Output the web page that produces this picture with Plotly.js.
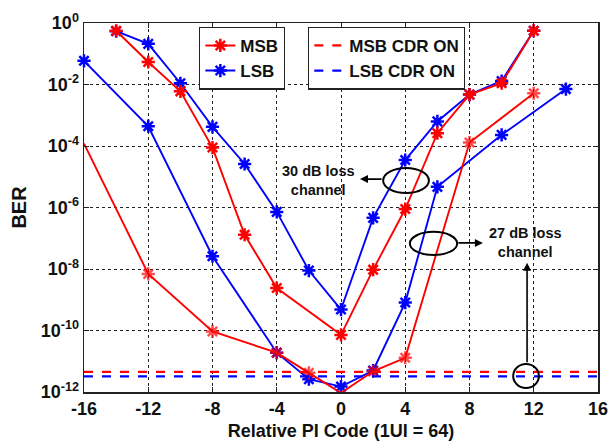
<!DOCTYPE html>
<html>
<head>
<meta charset="utf-8">
<script src="https://cdn.plot.ly/plotly-3.0.1.min.js"></script>
<style>html,body{margin:0;padding:0;background:#fff;}#chart{width:613px;height:448px;}</style>
</head>
<body>
<div id="chart"></div>
<script>
// 30 dB loss channel
const xMsb30 = [-14, -12, -10, -8, -6, -4, 0, 2, 4, 6, 8, 10, 12];
const berMsb30 = [5.6e-1, 5.4e-2, 6.0e-3, 8.9e-5, 1.3e-7, 2.4e-9, 7.2e-11, 9.5e-9, 8.9e-7, 2.6e-4, 4.7e-3, 1.1e-2, 5.6e-1];
const xLsb30 = [-14, -12, -10, -8, -6, -4, -2, 0, 2, 4, 6, 8, 10, 12];
const berLsb30 = [5.4e-1, 2.1e-1, 1.1e-2, 4.2e-4, 2.6e-5, 7.2e-7, 8.9e-9, 4.8e-10, 4.6e-7, 3.5e-5, 6.3e-4, 4.7e-3, 1.3e-2, 5.6e-1];
// 27 dB loss channel
const xMsb27 = [-16, -12, -8, -4, -2, 0, 2, 4, 8, 12];
const berMsb27 = [1.2e-4, 6.9e-9, 9.3e-11, 1.9e-11, 4.2e-12, 9.3e-13, 4.7e-12, 1.3e-11, 1.3e-4, 5.2e-3];
const xLsb27 = [-16, -12, -8, -4, -2, 0, 2, 4, 6, 10, 14];
const berLsb27 = [5.9e-2, 4.4e-4, 2.6e-8, 1.9e-11, 2.6e-12, 1.5e-12, 5.0e-12, 8.1e-10, 4.7e-6, 2.3e-4, 7.1e-3];
// CDR ON levels
const xCdr = [-16, 16];
const berMsbCdr = [4.5e-12, 4.5e-12];
const berLsbCdr = [3.2e-12, 3.2e-12];
// ticks
const xTicks = [-16, -12, -8, -4, 0, 4, 8, 12, 16];
const xTickText = ['-16', '-12', '-8', '-4', '0', '4', '8', '12', '16'];
const yTicks = [1, 1e-2, 1e-4, 1e-6, 1e-8, 1e-10, 1e-12];
const yTickText = ['10<sup>0</sup>', '10<sup>-2</sup>', '10<sup>-4</sup>', '10<sup>-6</sup>', '10<sup>-8</sup>', '10<sup>-10</sup>', '10<sup>-12</sup>'];

const RED = '#ff0000', BLUE = '#0000ff';
const FONT = 'Arial, "Liberation Sans", sans-serif';
const bold = s => '<b>' + s + '</b>';
function mk(color, sizes) {
  return {symbol: 'asterisk-open', size: sizes || 11, color: color, line: {color: color, width: 2.5}};
}
const traces = [
  {x: xLsb27, y: berLsb27, mode: 'lines+markers', line: {color: BLUE, width: 1.9}, marker: mk(BLUE), showlegend: false, cliponaxis: false},
  {x: xMsb27, y: berMsb27, mode: 'lines+markers', line: {color: RED, width: 1.9}, marker: mk(RED, xMsb27.map((v, i) => i === 0 ? 0 : 11)), showlegend: false, cliponaxis: false},
  {x: xLsb30, y: berLsb30, mode: 'lines+markers', line: {color: BLUE, width: 1.9}, marker: mk(BLUE), name: bold('LSB'), legend: 'legend', legendrank: 2, cliponaxis: false},
  {x: xMsb30, y: berMsb30, mode: 'lines+markers', line: {color: RED, width: 1.9}, marker: mk(RED), name: bold('MSB'), legend: 'legend', legendrank: 1, cliponaxis: false},
  {x: xCdr, y: berMsbCdr, mode: 'lines', line: {color: RED, width: 2.2, dash: 'dash'}, name: bold('MSB CDR ON'), legend: 'legend2', legendrank: 1},
  {x: xCdr, y: berLsbCdr, mode: 'lines', line: {color: BLUE, width: 2.2, dash: 'dash'}, name: bold('LSB CDR ON'), legend: 'legend2', legendrank: 2}
];

const axisCommon = {
  showline: true, mirror: 'ticks', linecolor: '#222', linewidth: 1.5,
  ticks: 'inside', ticklen: 5, tickcolor: '#222',
  showgrid: true, gridcolor: '#222', gridwidth: 1, griddash: '3px,3px',
  zeroline: false,
  tickfont: {family: FONT, size: 18, color: '#111'}
};

const annFont = {family: FONT, size: 14.5, color: '#111'};
const legFont = {family: FONT, size: 17, color: '#111'};
const layout = {
  width: 613, height: 448,
  margin: {l: 84, r: 15, t: 23, b: 56},
  paper_bgcolor: '#fff', plot_bgcolor: '#fff',
  font: {family: FONT},
  xaxis: Object.assign({}, axisCommon, {
    range: [-16, 16], tickmode: 'array', tickvals: xTicks, ticktext: xTickText.map(bold),
    title: {text: bold('Relative PI Code (1UI = 64)'), font: {family: FONT, size: 18, color: '#111'}, standoff: 6}
  }),
  yaxis: Object.assign({}, axisCommon, {
    type: 'log', range: [-12, 0], tickmode: 'array', tickvals: yTicks, ticktext: yTickText.map(bold),
    title: {text: bold('BER'), font: {family: FONT, size: 20, color: '#111'}, standoff: 8}
  }),
  legend: {
    x: 0.224, y: 0.99, xanchor: 'left', yanchor: 'top',
    bgcolor: '#fff', bordercolor: '#222', borderwidth: 1.2,
    font: legFont, tracegroupgap: 0, itemwidth: 30
  },
  legend2: {
    x: 0.436, y: 0.99, xanchor: 'left', yanchor: 'top',
    bgcolor: '#fff', bordercolor: '#222', borderwidth: 1.2,
    font: legFont, tracegroupgap: 0, itemwidth: 30
  },
  shapes: [
    {type: 'circle', xref: 'paper', yref: 'paper', x0: 0.582, x1: 0.671, y0: 0.539, y1: 0.607, line: {color: '#000', width: 2}},
    {type: 'circle', xref: 'paper', yref: 'paper', x0: 0.634, x1: 0.726, y0: 0.371, y1: 0.434, line: {color: '#000', width: 2}},
    {type: 'circle', xref: 'paper', yref: 'paper', x0: 0.835, x1: 0.885, y0: 0.011, y1: 0.076, line: {color: '#000', width: 2}}
  ],
  annotations: [
    {xref: 'paper', yref: 'paper', x: 0.457, y: 0.572, xanchor: 'center', yanchor: 'middle', text: bold('30 dB loss<br>channel'), showarrow: false, font: annFont},
    {xref: 'paper', yref: 'paper', x: 0.858, y: 0.404, xanchor: 'center', yanchor: 'middle', text: bold('27 dB loss<br>channel'), showarrow: false, font: annFont},
    {xref: 'paper', yref: 'paper', x: 0.537, y: 0.577, ax: 23, ay: 0, text: '', showarrow: true, arrowhead: 2, arrowsize: 1, arrowwidth: 1.6, arrowcolor: '#000'},
    {xref: 'paper', yref: 'paper', x: 0.776, y: 0.404, ax: -26, ay: 0, text: '', showarrow: true, arrowhead: 2, arrowsize: 1, arrowwidth: 1.6, arrowcolor: '#000'},
    {xref: 'paper', yref: 'paper', x: 0.862, y: 0.350, ax: 0, ay: 101, text: '', showarrow: true, arrowhead: 2, arrowsize: 1, arrowwidth: 1.6, arrowcolor: '#000'}
  ]
};

Plotly.newPlot('chart', traces, layout, {displayModeBar: false, staticPlot: true});
</script>
</body>
</html>
